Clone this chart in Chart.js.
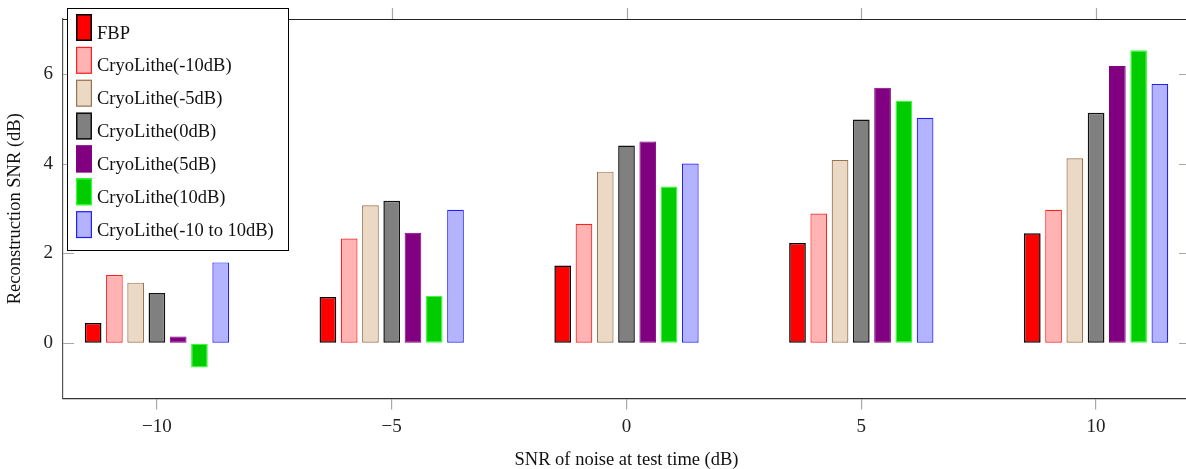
<!DOCTYPE html>
<html>
<head>
<meta charset="utf-8">
<script src="https://cdn.jsdelivr.net/npm/chart.js@4.4.1/dist/chart.umd.min.js"></script>
<style>
html,body{margin:0;padding:0;background:#fff;overflow:hidden;}
#wrap{position:relative;width:1200px;height:469px;}
</style>
</head>
<body>
<div id="wrap"><canvas id="c"></canvas></div>
<script>
const xValues = [-10, -5, 0, 5, 10];
const xTickValues = [-10, -5, 0, 5, 10];
const yTickValues = [0, 2, 4, 6];
const seriesNames = ["FBP", "CryoLithe(-10dB)", "CryoLithe(-5dB)", "CryoLithe(0dB)", "CryoLithe(5dB)", "CryoLithe(10dB)", "CryoLithe(-10 to 10dB)"];
const fbp    = [0.45, 1.03, 1.73, 2.23, 2.45];
const clM10  = [1.52, 2.33, 2.66, 2.89, 2.97];
const clM5   = [1.35, 3.07, 3.82, 4.08, 4.12];
const cl0    = [1.12, 3.17, 4.40, 4.98, 5.13];
const cl5    = [0.15, 2.46, 4.49, 5.69, 6.17];
const cl10   = [-0.54, 1.06, 3.49, 5.40, 6.52];
const clAll  = [1.80, 2.97, 4.00, 5.02, 5.77];
const seriesValues = [fbp, clM10, clM5, cl0, cl5, cl10, clAll];

const fills   = ["#ff0000", "#ffb3b3", "#ebd9c6", "#808080", "#800080", "#00cc00", "#b3b3ff"];
const borders = ["#000000", "#ff2020", "#9a7450", "#111111", "#800080", "#33ff33", "#2020ff"];
const bws     = [1.5, 1.2, 1.2, 1.5, 1, 1.2, 1.2];

const datasets = seriesNames.map((n, i) => ({
  label: n,
  data: xValues.map((x, j) => ({x: x, y: seriesValues[i][j]})),
  backgroundColor: fills[i],
  borderColor: borders[i],
  borderWidth: bws[i],
  borderSkipped: false
}));

const serif = "'Liberation Serif', 'Times New Roman', serif";

const framePlugin = {
  id: 'frame',
  afterDraw(chart) {
    const ctx = chart.ctx, a = chart.chartArea;
    const xs = chart.scales.x, ys = chart.scales.y;
    ctx.save();
    ctx.strokeStyle = '#222';
    ctx.lineWidth = 1.2;
    ctx.beginPath();
    ctx.moveTo(a.left, a.top + 0.5); ctx.lineTo(a.right, a.top + 0.5);
    ctx.moveTo(a.right - 0.5, a.top); ctx.lineTo(a.right - 0.5, a.bottom);
    ctx.stroke();
    ctx.strokeStyle = '#a8a8a8';
    ctx.lineWidth = 1.2;
    ctx.beginPath();
    xTickValues.forEach(v => {
      const px = Math.round(xs.getPixelForValue(v)) + 0.5;
      ctx.moveTo(px, a.top); ctx.lineTo(px, a.top - 11);
    });
    yTickValues.forEach(v => {
      const py = Math.round(ys.getPixelForValue(v)) + 0.5;
      ctx.moveTo(a.left, py); ctx.lineTo(a.left + 11, py);
      ctx.moveTo(a.right, py); ctx.lineTo(a.right - 11, py);
    });
    ctx.stroke();
    // legend
    const L = 67.5, T = 8.5, W = 221, H = 242;
    ctx.fillStyle = '#fff';
    ctx.fillRect(L, T, W, H);
    ctx.strokeStyle = '#000';
    ctx.lineWidth = 1;
    ctx.strokeRect(L, T, W, H);
    ctx.font = "18.5px " + serif;
    ctx.textBaseline = 'alphabetic';
    ctx.textAlign = 'left';
    chart.data.datasets.forEach((d, i) => {
      const top = 14 + 32.85 * i;
      ctx.fillStyle = d.backgroundColor;
      ctx.fillRect(76, top, 16, 27);
      ctx.strokeStyle = d.borderColor;
      ctx.lineWidth = d.borderWidth;
      ctx.strokeRect(76 + d.borderWidth / 2, top + d.borderWidth / 2, 16 - d.borderWidth, 27 - d.borderWidth);
      ctx.fillStyle = '#111';
      ctx.fillText(d.label, 97, top + 24.5);
    });
    ctx.restore();
  }
};

new Chart(document.getElementById('c'), {
  type: 'bar',
  data: { datasets: datasets },
  options: {
    responsive: true,
    maintainAspectRatio: false,
    animation: false,
    devicePixelRatio: 1,
    layout: { padding: { top: 19, right: 10, left: 0, bottom: 0 } },
    datasets: { bar: { categoryPercentage: 0.634, barPercentage: 0.785, grouped: true } },
    plugins: { legend: { display: false }, tooltip: { enabled: false } },
    scales: {
      x: {
        type: 'linear',
        min: -12, max: 12,
        offset: false,
        afterBuildTicks: s => { s.ticks = xTickValues.map(v => ({value: v})); },
        afterFit: s => { s.height = 70.5; s.paddingLeft = 0; s.paddingRight = 0; },
        grid: { display: true, offset: false, drawOnChartArea: false, drawTicks: true, tickLength: 11, color: '#a8a8a8', lineWidth: 1.2 },
        border: { display: true, color: '#333', width: 1.2 },
        ticks: {
          padding: 6,
          color: '#222',
          font: { family: serif, size: 19 },
          maxRotation: 0,
          callback: v => (v < 0 ? '\u2212' + Math.abs(v) : String(v))
        },
        title: { display: true, text: 'SNR of noise at test time (dB)', color: '#111', font: { family: serif, size: 18.5, lineHeight: 1 }, padding: 0 }
      },
      y: {
        min: -1.229, max: 7.218,
        afterBuildTicks: s => { s.ticks = yTickValues.map(v => ({value: v})); },
        afterFit: s => { s.width = 63; s.paddingTop = 0; s.paddingBottom = 0; },
        grid: { display: true, offset: false, drawOnChartArea: false, drawTicks: false, color: 'rgba(0,0,0,0)' },
        border: { display: true, color: '#555', width: 1.2 },
        ticks: {
          padding: 10,
          color: '#222',
          font: { family: serif, size: 19 },
          callback: v => (v < 0 ? '\u2212' + Math.abs(v) : String(v))
        },
        title: { display: true, text: 'Reconstruction SNR (dB)', color: '#111', font: { family: serif, size: 18.5, lineHeight: 1.2 }, padding: { top: 4, bottom: 0 } }
      }
    }
  },
  plugins: [framePlugin]
});
</script>
</body>
</html>
